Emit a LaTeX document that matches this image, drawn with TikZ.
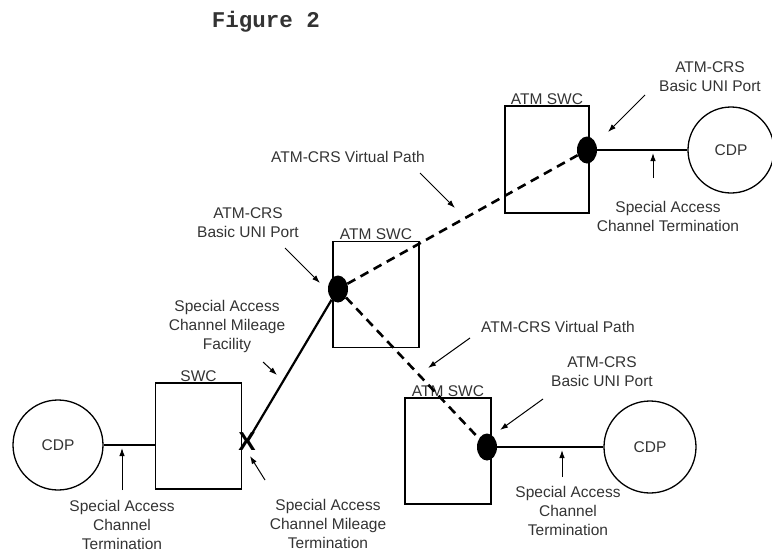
\documentclass[tikz,border=0pt]{standalone}
\usepackage{fontspec}
\setmainfont{Liberation Sans}
\newfontfamily\figmono{Liberation Mono}
\usetikzlibrary{arrows.meta,shapes.geometric}

\begin{document}
\begin{tikzpicture}[
  x=1pt, y=-1pt,
  >={Latex[length=8pt,width=5.5pt]},
  font=\fontsize{15.5}{19}\selectfont,
  text=black!80,
  swcbox/.style={draw, line width=1.3pt, minimum width=86pt, minimum height=106pt, inner sep=0pt},
  cdp/.style={draw, circle, line width=1.3pt, minimum size=90pt, inner sep=0pt},
  port/.style={ellipse, fill=black, minimum width=20pt, minimum height=27pt, inner sep=0pt},
  lbl/.style={align=center, inner sep=1pt},
  boxlbl/.style={inner sep=1pt},
  access/.style={line width=1.3pt},
  mileage/.style={line width=2.2pt},
  vpath/.style={line width=2.6pt, dash pattern=on 9pt off 6pt},
  note/.style={->, line width=1pt}
]
\useasboundingbox (0,0) rectangle (772,552);

\node[font=\figmono\bfseries\fontsize{22.5}{22.5}\selectfont] (title) at (266,22) {Figure 2};

% switching centres
\node[swcbox, label={[boxlbl]above:SWC}] (swc) at (198.5,436) {};
\node[swcbox, label={[boxlbl]above:ATM SWC}] (atmA) at (376,294.5) {};
\node[swcbox, minimum width=84pt, minimum height=107pt, label={[boxlbl]above:ATM SWC}] (atmB) at (547,159.5) {};
\node[swcbox, label={[boxlbl]above:ATM SWC}] (atmC) at (448,451) {};

% customer premises
\node[cdp] (cdpL) at (58,445) {CDP};
\node[cdp, minimum size=86pt] (cdpB) at (731,150) {CDP};
\node[cdp, minimum size=92pt] (cdpC) at (650,447) {CDP};

% UNI ports
\node[port] (dotA) at (338,289) {};
\node[port] (dotB) at (587,150) {};
\node[port] (dotC) at (487,447) {};

\draw[access] (cdpL.east) -- (cdpL.east -| swc.west);
\draw[access] (dotB) -- (cdpB.west);
\draw[access] (dotC) -- (cdpC.west);
\node[font=\bfseries\fontsize{26}{26}\selectfont, inner sep=0pt, text=black] (xmark) at (247,442) {X};
\draw[mileage] (xmark.center) -- (dotA);
\draw[vpath] (dotA) -- (dotB);
\draw[vpath] (dotA) -- (dotC);

% callouts
\node[lbl] (vpTop) at (348,157) {ATM-CRS Virtual Path};
\node[lbl] (portA) at (248,223) {ATM-CRS\\Basic UNI Port};
\node[lbl] (facility) at (227,326) {Special Access\\Channel Mileage\\Facility};
\node[lbl] (portB) at (710,77) {ATM-CRS\\Basic UNI Port};
\node[lbl] (termB) at (668,216) {Special Access\\Channel Termination};
\node[lbl] (vpC) at (558,327) {ATM-CRS Virtual Path};
\node[lbl] (portC) at (602,372) {ATM-CRS\\Basic UNI Port};
\node[lbl] (termC) at (568,511) {Special Access\\Channel\\Termination};
\node[lbl] (termL) at (122,525) {Special Access\\Channel\\Termination};
\node[lbl] (mileTerm) at (328,524) {Special Access\\Channel Mileage\\Termination};

\coordinate (vpTop-tip) at (455,208);
\coordinate (portA-tip) at (320,283);
\coordinate (facility-tip) at (277,375);
\coordinate (portB-tip) at (608,132);
\coordinate (termB-tip) at (653,153);
\coordinate (vpC-tip) at (428,368);
\coordinate (portC-tip) at (500,430);
\coordinate (termC-tip) at (562,450);
\coordinate (termL-tip) at (122,448);
\coordinate (mileTerm-tip) at (250,456);

\draw[note] ([shift={(72,16)}]vpTop.center) -- (vpTop-tip);
\draw[note] ([shift={(37,25)}]portA.center) -- (portA-tip);
\draw[note] ([shift={(36,36)}]facility.center) -- (facility-tip);
\draw[note] ([shift={(-65,18)}]portB.center) -- (portB-tip);
\draw[note] ([shift={(-15,-38)}]termB.center) -- (termB-tip);
\draw[note] ([shift={(-88,11)}]vpC.center) -- (vpC-tip);
\draw[note] ([shift={(-59,27)}]portC.center) -- (portC-tip);
\draw[note] ([shift={(-6,-34)}]termC.center) -- (termC-tip);
\draw[note] ([shift={(0,-35)}]termL.center) -- (termL-tip);
\draw[note] ([shift={(-63,-44)}]mileTerm.center) -- (mileTerm-tip);
\end{tikzpicture}
\end{document}
